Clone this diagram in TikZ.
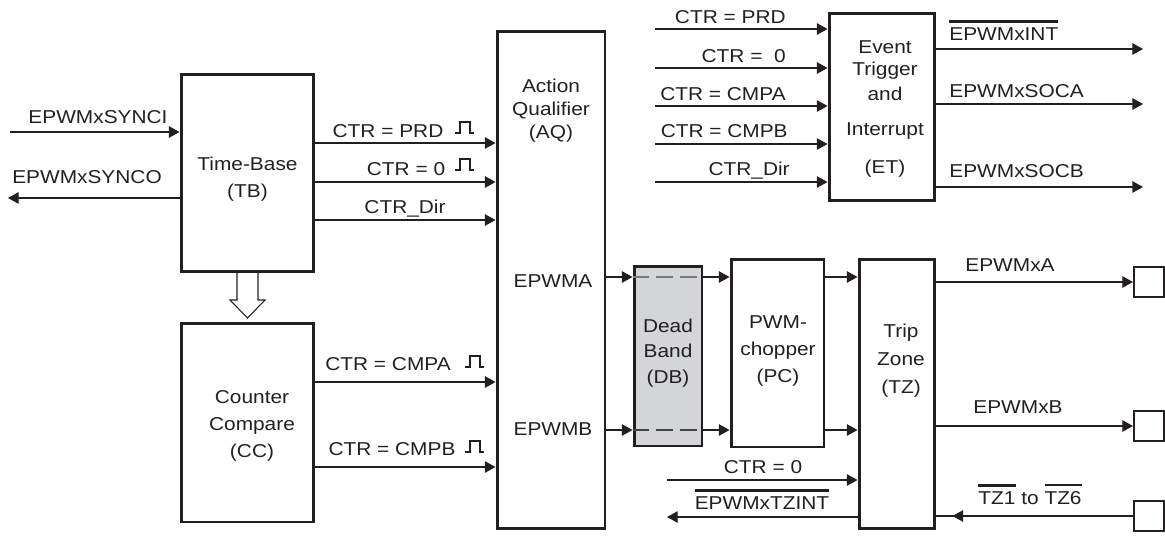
\documentclass[tikz,border=0pt]{standalone}
\usepackage{fontspec}
\setmainfont{Liberation Sans}[FakeStretch=1.12]
\usetikzlibrary{arrows.meta}
\definecolor{ink}{RGB}{35,31,32}
\definecolor{dbfill}{RGB}{211,213,216}
\newcommand{\ovl}[1]{\setbox0\hbox{#1}\rlap{\rule[\dimexpr\ht0+2.6pt\relax]{\wd0}{1.3pt}}\box0\relax}
\tikzset{
  blk/.style={draw=ink, line width=1.7pt, fill=white, inner sep=0pt},
  pad/.style={draw=ink, line width=1.2pt, fill=white, inner sep=0pt, minimum size=0.6cm},
  wire/.style={draw=ink, line width=0.6pt},
  sig/.style={wire, -{Triangle[length=6pt,width=6.5pt]}},
  txt/.style={text=ink, inner sep=0pt, align=center, anchor=base},
  rtxt/.style={txt, anchor=base east},
  ltxt/.style={txt, anchor=base west},
  pulse/.pic={\draw[ink, line width=0.6pt] (0,0) -- (5,0) -- (5,-11) -- (15,-11) -- (15,0) -- (19,0);}
}
\begin{document}
\begin{tikzpicture}[x=0.02cm, y=-0.02cm, font=\fontsize{10.6}{13}\selectfont]
        \useasboundingbox (0,0) rectangle (1165,535);

        % Blocks
        \node[blk, minimum width=2.66cm, minimum height=3.96cm] (tb) at (247.5,173) {};
        \node[blk, minimum width=2.66cm, minimum height=3.98cm] (cc) at (247.5,422.5) {};
        \node[blk, minimum width=2.16cm, minimum height=9.96cm] (aq) at (551,280) {};
        \node[blk, fill=dbfill, minimum width=1.36cm, minimum height=3.6cm] (db) at (668,356) {};
        \node[blk, minimum width=1.86cm, minimum height=3.76cm] (pc) at (777.5,353) {};
        \node[blk, minimum width=1.5cm, minimum height=5.4cm] (tz) at (896.5,394) {};
        \node[blk, minimum width=2.1cm, minimum height=3.76cm] (et) at (881.5,107) {};
        \node[pad] (pa) at (1149,282) {};
        \node[pad] (pb) at (1149,426) {};
        \node[pad] (pt) at (1149,516) {};

        % Block texts (base = last line)
        \node[txt, font=\fontsize{10.6}{15.3}\selectfont] (ttb) at (247.5,197) {Time-Base\\(TB)};
        \node[txt, font=\fontsize{10.6}{15.3}\selectfont] (tcc) at (252,457) {Counter\\Compare\\(CC)};
        \node[txt] (taq) at (551,138) {Action\\Qualifier\\(AQ)};
        \node[txt, font=\fontsize{10.6}{14.5}\selectfont] (tdb) at (668,383) {Dead\\Band\\(DB)};
        \node[txt, font=\fontsize{10.6}{15.3}\selectfont] (tpc) at (778,382) {PWM-\\chopper\\(PC)};
        \node[txt, font=\fontsize{10.6}{15.9}\selectfont] (ttz) at (901,393) {Trip\\Zone\\(TZ)};
        \node[txt, font=\fontsize{10.6}{12.5}\selectfont] (tet) at (885,173) {Event\\Trigger\\[1.7pt]and\\[7.4pt]Interrupt\\[9.1pt](ET)};

        % Sync in / out
        \coordinate (synci) at (10,132);
        \coordinate (synco) at (8,198);
        \draw[sig] (synci) -- (tb.west |- synci);
        \draw[sig] (tb.west |- synco) -- (synco);
        \node[txt] (lsynci) at (98,123) {EPWMxSYNCI};
        \node[txt] (lsynco) at (87,183) {EPWMxSYNCO};

        % Time-base to action qualifier
        \foreach \y in {143,182,220}
            \draw[sig] (tb.east |- 0,\y) -- (aq.west |- 0,\y);
        \node[txt] (lprd) at (388,137) {CTR = PRD};
        \node[txt] (lzero) at (406,175) {CTR = 0};
        \node[txt] (ldir) at (405,213) {CTR\_Dir};
        \pic at (455,133) {pulse};
        \pic at (455,170) {pulse};

        % Hollow arrow TB -> CC
        \draw[ink, line width=0.6pt, fill=white] (237,273) -- (237,300) -- (230,300) -- (247.5,318)
            -- (265,300) -- (258,300) -- (258,273);

        % Counter compare to action qualifier
        \foreach \y in {382,467}
            \draw[sig] (cc.east |- 0,\y) -- (aq.west |- 0,\y);
        \node[txt] (lcmpa) at (388,370) {CTR = CMPA};
        \node[txt] (lcmpb) at (392,455) {CTR = CMPB};
        \pic at (465,367) {pulse};
        \pic at (465,452) {pulse};

        % PWM path: AQ -> DB -> PC -> TZ
        \node[txt] (lepwma) at (553,287) {EPWMA};
        \node[txt] (lepwmb) at (553,435) {EPWMB};
        \foreach \y in {277,430} {
            \draw[sig] (aq.east |- 0,\y) -- (db.west |- 0,\y);
            \draw[sig] (db.east |- 0,\y) -- (pc.west |- 0,\y);
            \draw[sig] (pc.east |- 0,\y) -- (tz.west |- 0,\y);
        }
        \draw[ink!60, line width=0.6pt, dash pattern=on 9.6pt off 4pt] (db.west |- 0,277) -- (db.east |- 0,277);
        \draw[ink!85, line width=0.6pt, dash pattern=on 9.6pt off 4pt] (db.west |- 0,430) -- (db.east |- 0,430);

        % Trip zone outputs
        \draw[sig] (tz.east |- pa) -- (pa.west);
        \draw[sig] (tz.east |- pb) -- (pb.west);
        \node[txt] (lxa) at (1010,271) {EPWMxA};
        \node[txt] (lxb) at (1018,413) {EPWMxB};

        % Trip zone inputs and interrupt
        \coordinate (tzin) at (667,480);
        \coordinate (tzout) at (667,517);
        \draw[sig] (tzin) -- (tz.west |- tzin);
        \draw[sig] (tz.west |- tzout) -- (tzout);
        \node[txt] (ltzz) at (763,473) {CTR = 0};
        \node[txt] (ltzint) at (762,509) {\ovl{EPWMxTZINT}};
        \draw[wire] (pt.west) -- (tz.east |- pt);
        \draw[sig, shorten >=0.34cm] (pt.west) -- (tz.east |- pt);
        \node[txt] (ltzn) at (1030,504) {\ovl{TZ1} to \ovl{TZ6}};

        % Event trigger inputs
        \foreach \y in {29,68,106,144,182}
            \draw[sig] (655,\y) -- (et.west |- 0,\y);
        \node[rtxt] (eprd) at (786,23) {CTR = PRD};
        \node[rtxt] (ezero) at (786,62) {CTR = \ 0};
        \node[rtxt] (ecmpa) at (786,100) {CTR = CMPA};
        \node[rtxt] (ecmpb) at (788,137) {CTR = CMPB};
        \node[rtxt] (edir) at (790,175) {CTR\_Dir};

        % Event trigger outputs
        \foreach \y in {49,104,187}
            \draw[sig] (et.east |- 0,\y) -- (1143,\y);
        \node[ltxt] (lint) at (949,40) {\ovl{EPWMxINT}};
        \node[ltxt] (lsoca) at (949,97) {EPWMxSOCA};
        \node[ltxt] (lsocb) at (949,177) {EPWMxSOCB};
\end{tikzpicture}
\end{document}
